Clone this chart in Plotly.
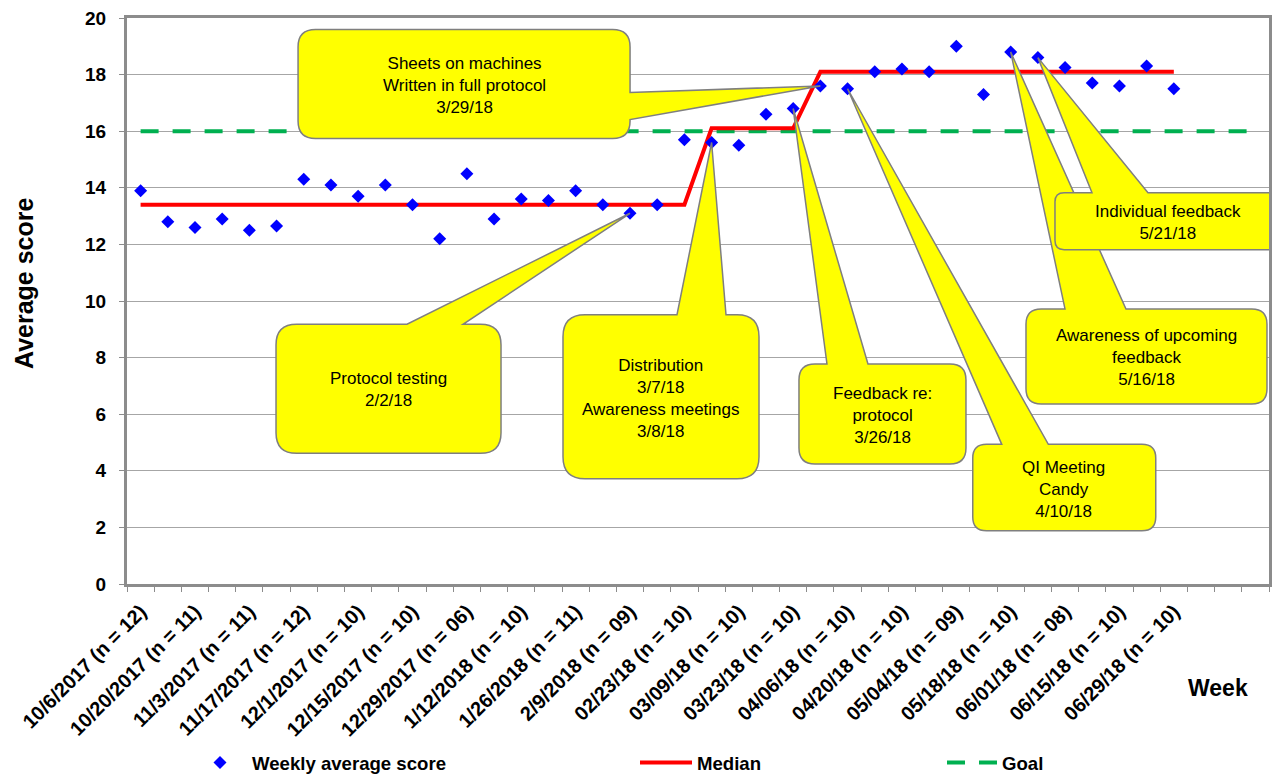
import plotly.graph_objects as go

# ---------------- data ----------------
week_labels = [
    "10/6/2017 (n = 12)", "10/20/2017 (n = 11)", "11/3/2017 (n = 11)",
    "11/17/2017 (n = 12)", "12/1/2017 (n = 10)", "12/15/2017 (n = 10)",
    "12/29/2017 (n = 06)", "1/12/2018 (n = 10)", "1/26/2018 (n = 11)",
    "2/9/2018 (n = 09)", "02/23/18 (n = 10)", "03/09/18 (n = 10)",
    "03/23/18 (n = 10)", "04/06/18 (n = 10)", "04/20/18 (n = 10)",
    "05/04/18 (n = 09)", "05/18/18 (n = 10)", "06/01/18 (n = 08)",
    "06/15/18 (n = 10)", "06/29/18 (n = 10)",
]
label_slots = list(range(0, 39, 2))   # every other week is labelled

weekly_avg = [
    13.9, 12.8, 12.6, 12.9, 12.5, 12.65, 14.3, 14.1, 13.7, 14.1,
    13.4, 12.2, 14.5, 12.9, 13.6, 13.55, 13.9, 13.4, 13.1, 13.4,
    15.7, 15.6, 15.5, 16.6, 16.8, 17.6, 17.5, 18.1, 18.2, 18.1,
    19.0, 17.3, 18.8, 18.6, 18.25, 17.7, 17.6, 18.3, 17.5,
]
median = [
    13.4, 13.4, 13.4, 13.4, 13.4, 13.4, 13.4, 13.4, 13.4, 13.4,
    13.4, 13.4, 13.4, 13.4, 13.4, 13.4, 13.4, 13.4, 13.4, 13.4,
    13.4, 16.1, 16.1, 16.1, 16.1, 18.1, 18.1, 18.1, 18.1, 18.1,
    18.1, 18.1, 18.1, 18.1, 18.1, 18.1, 18.1, 18.1, 18.1,
]
goal = [
    16, 16, 16, 16, 16, 16, 16, 16, 16, 16, 16, 16, 16, 16,
    16, 16, 16, 16, 16, 16, 16, 16, 16, 16, 16, 16, 16, 16,
    16, 16, 16, 16, 16, 16, 16, 16, 16, 16, 16, 16, 16, 16,
]
n_slots = 42

# callouts: text, index of the week pointed at
callout_texts = [
    "Sheets on machines<br>Written in full protocol<br>3/29/18",
    "Protocol testing<br>2/2/18",
    "Distribution<br>3/7/18<br>Awareness meetings<br>3/8/18",
    "Feedback re:<br>protocol<br>3/26/18",
    "QI Meeting<br>Candy<br>4/10/18",
    "Awareness of upcoming<br>feedback<br>5/16/18",
    "Individual feedback<br>5/21/18",
]
callout_weeks = [25, 18, 21, 24, 26, 32, 33]

# layout of callouts (pixel offsets from the tip, y downward)
callout_boxes = [
    (-522.3, -56.4, -190.3, 52.6),
    (-354.0, 111.0, -129.0, 240.0),
    (-148.6, 172.2, 47.4, 336.2),
    (5.8, 255.4, 172.8, 355.4),
    (125.2, 355.6, 308.2, 442.0),
    (15.3, 257.0, 256.3, 352.0),
    (17.1, 135.1, 243.1, 192.1),
]
callout_wedges = [
    ("right", 6.6, 33.6),
    ("top", -223.0, -167.0),
    ("top", -34.6, 14.4),
    ("top", 33.8, 74.8),
    ("top", 154.2, 200.8),
    ("top", 54.3, 115.3),
    ("top", 54.1, 110.1),
]
callout_text_pos = [
    (-356.3, -0.4),
    (-242.0, 176.5),
    (-50.9, 255.7),
    (89.8, 307.2),
    (215.8, 400.6),
    (136.0, 305.3),
    (130.4, 164.8),
]

FONT = "Liberation Sans, Arial, sans-serif"
GRAY = "#8c8c8c"
W, H = 1277, 775
M_L, M_R, M_T, M_B = 127, 8, 18, 191
PW, PH = W - M_L - M_R, H - M_T - M_B


def callout_path(box, wedge):
    x0, y0, x1, y1 = box
    r = min(22.0, 0.16 * min(x1 - x0, y1 - y0))
    side, a, b = wedge

    def P(x, y):
        return f"{x:.2f},{-y:.2f}"

    s = f"M{P(x0 + r, y0)}"
    if side == "top":
        s += f" L{P(a, y0)} L{P(0, 0)} L{P(b, y0)}"
    s += f" L{P(x1 - r, y0)} Q{P(x1, y0)} {P(x1, y0 + r)}"
    if side == "right":
        s += f" L{P(x1, a)} L{P(0, 0)} L{P(x1, b)}"
    s += f" L{P(x1, y1 - r)} Q{P(x1, y1)} {P(x1 - r, y1)}"
    s += f" L{P(x0 + r, y1)} Q{P(x0, y1)} {P(x0, y1 - r)}"
    s += f" L{P(x0, y0 + r)} Q{P(x0, y0)} {P(x0 + r, y0)} Z"
    return s


def paper_x(px):
    return (px - M_L) / PW


def paper_y(py):
    return (H - M_B - py) / PH


fig = go.Figure()

fig.add_trace(go.Scatter(
    x=list(range(len(goal))), y=goal, mode="lines", name="Goal",
    line=dict(color="#00b050", width=4, dash="18px,14px"),
    legend="legend3",
))
fig.add_trace(go.Scatter(
    x=list(range(len(median))), y=median, mode="lines", name="Median",
    line=dict(color="#ff0000", width=4),
    legend="legend2",
))
fig.add_trace(go.Scatter(
    x=list(range(len(weekly_avg))), y=weekly_avg, mode="markers",
    name="Weekly average score",
    marker=dict(symbol="diamond", size=10, color="#0000ff"),
    legend="legend",
))

shapes = []
annotations = []
for txt, wk, box, wedge, tp in zip(callout_texts, callout_weeks, callout_boxes,
                                    callout_wedges, callout_text_pos):
    shapes.append(dict(
        type="path", xref="x", yref="y",
        xsizemode="pixel", ysizemode="pixel",
        xanchor=wk, yanchor=weekly_avg[wk],
        path=callout_path(box, wedge),
        fillcolor="#ffff00", line=dict(color="#7f7f7f", width=1.5),
        layer="above",
    ))
    annotations.append(dict(
        x=wk, y=weekly_avg[wk], xref="x", yref="y",
        xshift=tp[0], yshift=-tp[1], showarrow=False,
        text=txt, align="center", xanchor="center", yanchor="middle",
        font=dict(family=FONT, size=17, color="#000000"),
    ))

annotations.append(dict(
    x=paper_x(24), y=paper_y(284), xref="paper", yref="paper", showarrow=False,
    text="Average score", textangle=-90, xanchor="center", yanchor="middle",
    font=dict(family=FONT, size=25, color="#000000", weight="bold"),
))
annotations.append(dict(
    x=paper_x(1218), y=paper_y(688), xref="paper", yref="paper", showarrow=False,
    text="Week", xanchor="center", yanchor="middle",
    font=dict(family=FONT, size=23, color="#000000", weight="bold"),
))

legend_font = dict(family=FONT, size=18.6, color="#000000", weight="bold")
common_leg = dict(orientation="h", yref="container", xref="container",
                  yanchor="middle", y=1 - 763 / H, xanchor="left",
                  bgcolor="rgba(0,0,0,0)", font=legend_font)

fig.update_layout(
    width=W, height=H,
    margin=dict(l=M_L, r=M_R, t=M_T, b=M_B, autoexpand=False),
    paper_bgcolor="white", plot_bgcolor="white",
    showlegend=True,
    legend=dict(x=188 / W, itemwidth=54, **common_leg),
    legend2=dict(x=635 / W, itemwidth=52, **common_leg),
    legend3=dict(x=942 / W, itemwidth=50, **common_leg),
    shapes=shapes,
    annotations=annotations,
    xaxis=dict(
        range=[-0.5, n_slots - 0.5],
        tickmode="array", tickvals=label_slots, ticktext=week_labels,
        tickangle=-45, ticks="", ticklabelstandoff=5,
        tickfont=dict(family=FONT, size=20, color="#000000", weight="bold"),
        minor=dict(ticks="outside", ticklen=5, tickwidth=1, tickcolor=GRAY,
                   tickmode="array",
                   tickvals=[i - 0.5 for i in range(n_slots + 1)],
                   showgrid=False),
        showgrid=False, zeroline=False, automargin=False,
        showline=True, linecolor=GRAY, linewidth=3, mirror=True,
    ),
    yaxis=dict(
        range=[0, 20], dtick=2, tick0=0,
        ticks="outside", ticklen=5, tickcolor=GRAY, tickwidth=1,
        tickfont=dict(family=FONT, size=19, color="#000000", weight="bold"),
        ticklabelstandoff=9, automargin=False,
        showgrid=True, gridcolor="#a6a6a6", gridwidth=1, zeroline=False,
        showline=True, linecolor=GRAY, linewidth=3, mirror=True,
    ),
)

fig.write_html("out.html")
